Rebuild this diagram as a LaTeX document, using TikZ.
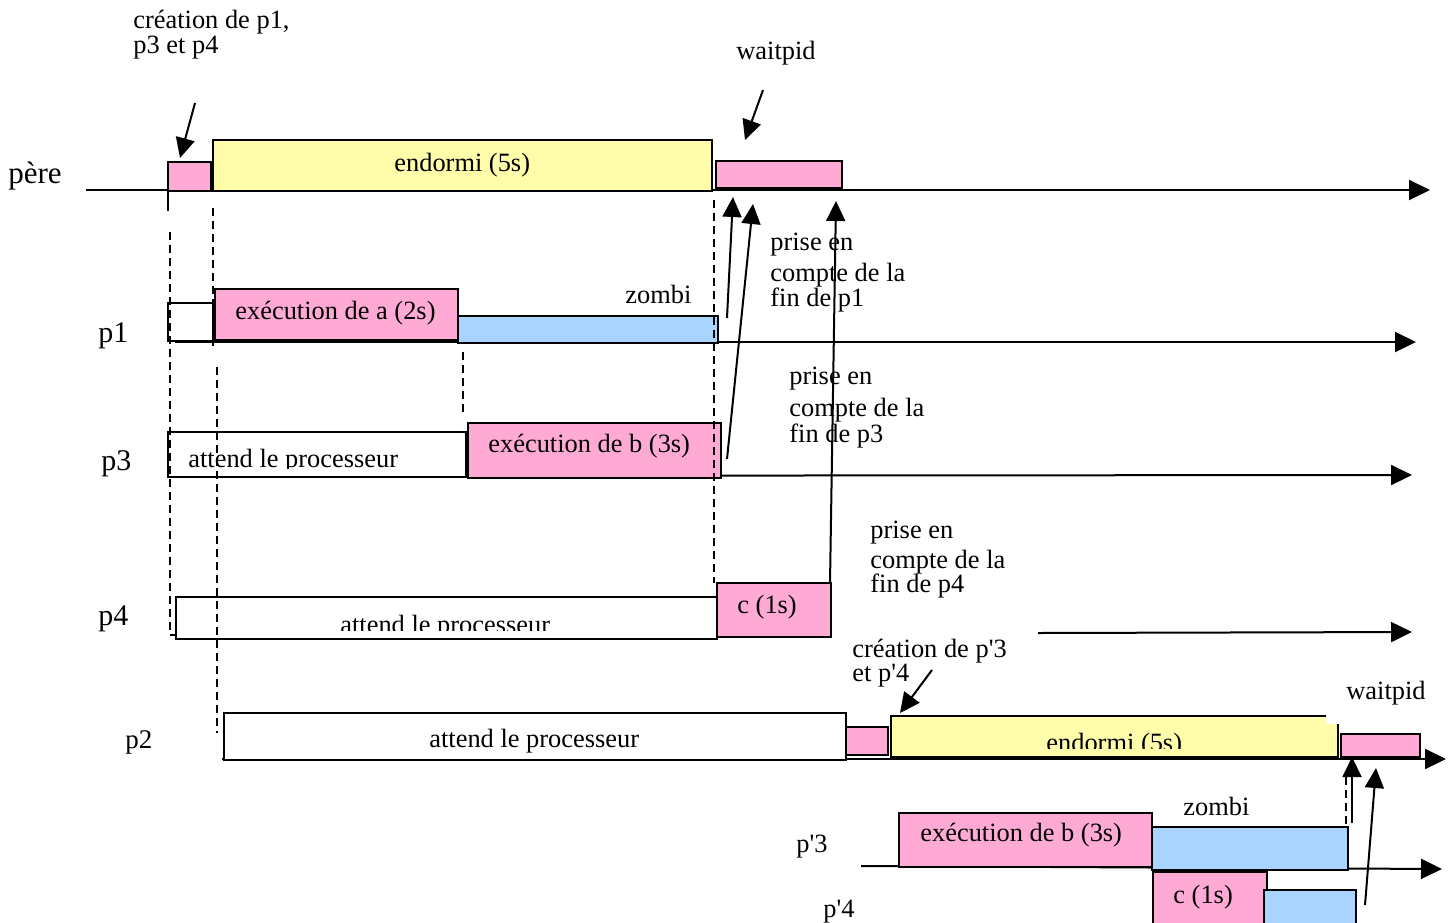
\documentclass[tikz,border=0pt]{standalone}
\usepackage{fontspec}
\setmainfont{Liberation Serif}[Ligatures=TeXOff]
\usetikzlibrary{arrows.meta}
\definecolor{pk}{RGB}{255,170,212}
\definecolor{yl}{RGB}{255,252,170}
\definecolor{bl}{RGB}{168,212,255}
\newcommand\tb[6]{%
  \pgfmathsetmacro\tbw{(#4-#2)*0.5}\pgfmathsetmacro\tbh{(#5-#3)*0.5}%
  \node[tbox,fill=#6,minimum width=\tbw pt,minimum height=\tbh pt] (#1) at ({(#2+#4)/2},{(#3+#5)/2}) {};}
\begin{document}
\begin{tikzpicture}[x=0.5pt,y=-0.5pt,
  tbox/.style={draw=black,line width=0.9pt,inner sep=0pt,outer sep=0pt,rectangle},
  txt/.style={inner sep=0pt,anchor=base west,font=\fontsize{13.2}{15}\selectfont},
  plab/.style={inner sep=0pt,anchor=base west,font=\fontsize{15}{17}\selectfont},
  axis/.style={line width=1pt,-{Triangle[length=10.5pt,width=10pt]}},
  ptr/.style={line width=1pt,-{Triangle[length=10pt,width=9.5pt]}},
  dsh/.style={line width=0.9pt,dash pattern=on 4pt off 2.5pt},
  thin line/.style={line width=0.9pt}]
\useasboundingbox (0,0) rectangle (1455,922);
\clip (0,0) rectangle (1455,922);

% ---------- axes ----------
\coordinate (a0s) at (86,190);   \coordinate (a0e) at (1430,190);
\coordinate (a1s) at (175,342);  \coordinate (a1e) at (1416,342);
\coordinate (a3s) at (168,476);  \coordinate (a3e) at (1412,475);
\coordinate (a4s) at (1038,633); \coordinate (a4e) at (1412,632);
\coordinate (a2s) at (222,759);  \coordinate (a2e) at (1446,759);
\coordinate (a5s) at (861,866);  \coordinate (a5e) at (1442,869);
\draw[axis] (a0s) -- (a0e);
\draw[axis] (a1s) -- (a1e);
\draw[axis] (a3s) -- (a3e);
\draw[axis] (a4s) -- (a4e);
\draw[axis] (a2s) -- (a2e);
\draw[axis] (a5s) -- (a5e);

% ---------- process labels ----------
\node[plab,font=\fontsize{15.5}{17}\selectfont] (lpere) at (8,183) {père};
\node[plab] (lp1) at (98,342) {p1};
\node[plab] (lp3) at (101,470) {p3};
\node[plab] (lp4) at (98,625) {p4};
\node[txt,font=\fontsize{13.5}{15}\selectfont] (lp2) at (125,748) {p2};
\node[txt] (lpp3) at (796,852) {p'3};
\node[txt] (lpp4) at (823,917) {p'4};

% ---------- père ----------
\tb{pc}{168}{162}{211}{191}{pk}
\tb{ps}{213}{140}{712}{191}{yl}
\tb{pw}{716}{161}{842}{188}{pk}
\draw[thin line] (168,191) -- (168,211);
\node[txt] (tps) at (394,171) {endormi (5s)};

% ---------- p1 ----------
\tb{p1w}{168}{303}{213}{341}{white}
\tb{p1a}{215}{289}{458}{340}{pk}
\tb{p1z}{458}{316}{718}{343}{bl}
\node[txt] (tp1a) at (235,319) {exécution de a (2s)};
\node[txt] (tz1) at (625,303) {zombi};

% ---------- p3 ----------
\tb{p3w}{168}{432}{466}{477}{white}
\tb{p3b}{468}{423}{721}{478}{pk}
\begin{scope}
  \clip (170,434) rectangle (464,468);
  \node[txt] (tp3w) at (188,467) {attend le processeur};
\end{scope}
\node[txt] (tp3b) at (488,452) {exécution de b (3s)};

% ---------- p4 ----------
\tb{p4w}{176}{597}{717}{639}{white}
\tb{p4c}{717}{583}{831}{637}{pk}
\draw[thin line] (170,635) -- (176,635);
\begin{scope}
  \clip (178,599) rectangle (715,630);
  \node[txt] (tp4w) at (340,633) {attend le processeur};
\end{scope}
\node[txt] (tp4c) at (737,613) {c (1s)};

% ---------- p2 ----------
\tb{p2w}{224}{713}{846}{760}{white}
\tb{p2c}{846}{727}{888}{755}{pk}
\fill[yl] (891,716) -- (1326,716) -- (1326,724) -- (1338,724) -- (1338,757) -- (891,757) -- cycle;
\draw[line width=0.9pt] (1326,716) -- (891,716) -- (891,757) -- (1338,757) -- (1338,724);
\tb{p2w2}{1341}{734}{1420}{757}{pk}
\node[txt] (tp2w) at (429,747) {attend le processeur};
\begin{scope}
  \clip (893,718) rectangle (1336,748);
  \node[txt] (tp2s) at (1046,751) {endormi (5s)};
\end{scope}

% ---------- p'3, p'4 ----------
\tb{q3b}{899}{813}{1152}{867}{pk}
\tb{q3z}{1152}{827}{1348}{870}{bl}
\node[txt] (tq3b) at (920,841) {exécution de b (3s)};
\node[txt] (tz2) at (1183,815) {zombi};
\tb{q4c}{1153}{872}{1267}{930}{pk}
\tb{q4z}{1264}{890}{1356}{930}{bl}
\node[txt] (tq4c) at (1173,903) {c (1s)};

% ---------- annotations ----------
\node[txt] (c1a) at (133,28) {création de p1,};
\node[txt] (c1b) at (133,53) {p3 et p4};
\node[txt] (w1) at (736,59) {waitpid};
\node[txt] (f1a) at (770,250) {prise en};
\node[txt] (f1b) at (770,281) {compte de la};
\node[txt] (f1c) at (770,306) {fin de p1};
\node[txt] (f3a) at (789,384) {prise en};
\node[txt] (f3b) at (789,416) {compte de la};
\node[txt] (f3c) at (789,442) {fin de p3};
\node[txt] (f4a) at (870,538) {prise en};
\node[txt] (f4b) at (870,568) {compte de la};
\node[txt] (f4c) at (870,592) {fin de p4};
\node[txt] (c2a) at (852,657) {création de p'3};
\node[txt] (c2b) at (852,681) {et p'4};
\node[txt] (w2) at (1346,699) {waitpid};

% ---------- dashed guides ----------
\draw[dsh] (170,232) -- (170,633);
\draw[dsh] (213,208) -- (213,347);
\draw[dsh] (217,367) -- (217,733);
\draw[dsh] (463,352) -- (463,413);
\draw[dsh] (714,200) -- (714,583);
\draw[dsh] (1346,777) -- (1346,825);

% ---------- pointer arrows ----------
\coordinate (k1s) at (195,103); \coordinate (k1e) at (180,158);
\coordinate (k2s) at (763,90);  \coordinate (k2e) at (745,140);
\coordinate (k3s) at (932,670); \coordinate (k3e) at (900,713);
\draw[ptr] (k1s) -- (k1e);
\draw[ptr] (k2s) -- (k2e);
\draw[ptr] (k3s) -- (k3e);

\coordinate (r1s) at (727,318); \coordinate (r1e) at (733,197);
\coordinate (r2s) at (727,459); \coordinate (r2e) at (753,204);
\coordinate (r3s) at (830,583); \coordinate (r3e) at (836,201);
\coordinate (s1s) at (1352,823); \coordinate (s1e) at (1352,757);
\coordinate (s2s) at (1365,905); \coordinate (s2e) at (1376,768);
\draw[ptr] (r1s) -- (r1e);
\draw[ptr] (r2s) -- (r2e);
\draw[ptr] (r3s) -- (r3e);
\draw[ptr] (s1s) -- (s1e);
\draw[ptr] (s2s) -- (s2e);
\end{tikzpicture}
\end{document}
